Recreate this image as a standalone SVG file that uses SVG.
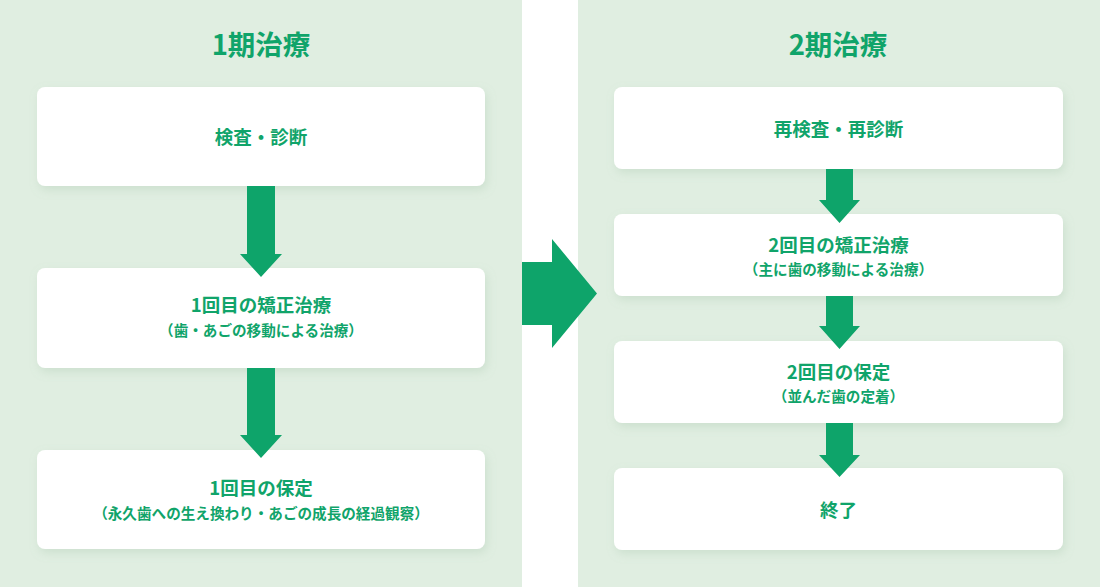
<svg xmlns="http://www.w3.org/2000/svg" width="1100" height="587" viewBox="0 0 1100 587">
<defs>
<style>
.panel{fill:#E0EEE1}
.box{fill:#FFFFFF;filter:url(#sh)}
.t{font-family:"Noto Sans CJK JP","Noto Sans",sans-serif;font-weight:bold;fill:#10A46A;text-anchor:middle}
.title{font-size:27.5px}
.main{font-size:18.5px}
.sub{font-size:14.6px}
.arr{fill:#0EA46A}
</style>
<filter id="sh" x="-10%" y="-20%" width="120%" height="150%">
<feDropShadow dx="2" dy="4" stdDeviation="5" flood-color="#8FB596" flood-opacity="0.25"/>
</filter>
</defs>
<rect x="0" y="0" width="1100" height="587" fill="#FFFFFF"/>
<rect class="panel" x="0" y="0" width="522" height="587"/>
<rect class="panel" x="578" y="0" width="522" height="587"/>
<text class="t title" x="261" y="55">1期治療</text>
<text class="t title" x="838" y="55">2期治療</text>

<g id="n1"><rect class="box" x="37" y="87" width="448" height="99" rx="8"/><text class="t main" x="261" y="144">検査・診断</text></g>
<g id="n2"><rect class="box" x="37" y="268" width="448" height="100" rx="8"/><text class="t main" x="261" y="312">1回目の矯正治療</text><text class="t sub" x="261" y="336">（歯・あごの移動による治療）</text></g>
<g id="n3"><rect class="box" x="37" y="450" width="448" height="99" rx="8"/><text class="t main" x="261" y="495">1回目の保定</text><text class="t sub" x="261" y="519">（永久歯への生え換わり・あごの成長の経過観察）</text></g>

<g id="m1"><rect class="box" x="614" y="87" width="449" height="82" rx="8"/><text class="t main" x="838.5" y="136">再検査・再診断</text></g>
<g id="m2"><rect class="box" x="614" y="214" width="449" height="82" rx="8"/><text class="t main" x="838.5" y="252">2回目の矯正治療</text><text class="t sub" x="838.5" y="275">（主に歯の移動による治療）</text></g>
<g id="m3"><rect class="box" x="614" y="341" width="449" height="82" rx="8"/><text class="t main" x="838.5" y="379">2回目の保定</text><text class="t sub" x="838.5" y="402">（並んだ歯の定着）</text></g>
<g id="m4"><rect class="box" x="614" y="468" width="449" height="82" rx="8"/><text class="t main" x="838.5" y="517">終了</text></g>

<g id="connectors">
<polygon class="arr" points="247,186 275,186 275,254 282,254 261,277 240,254 247,254"/>
<polygon class="arr" points="247,368 275,368 275,435 282,435 261,458 240,435 247,435"/>
<polygon class="arr" points="826,169 853,169 853,200 860,200 839.5,223 819,200 826,200"/>
<polygon class="arr" points="826,296 853,296 853,326 860,326 839.5,349 819,326 826,326"/>
<polygon class="arr" points="826,423 853,423 853,455 860,455 839.5,477 819,455 826,455"/>
<polygon class="arr" points="522,262 552,262 552,239 597,293.5 552,348 552,325 522,325"/>
</g>
</svg>
